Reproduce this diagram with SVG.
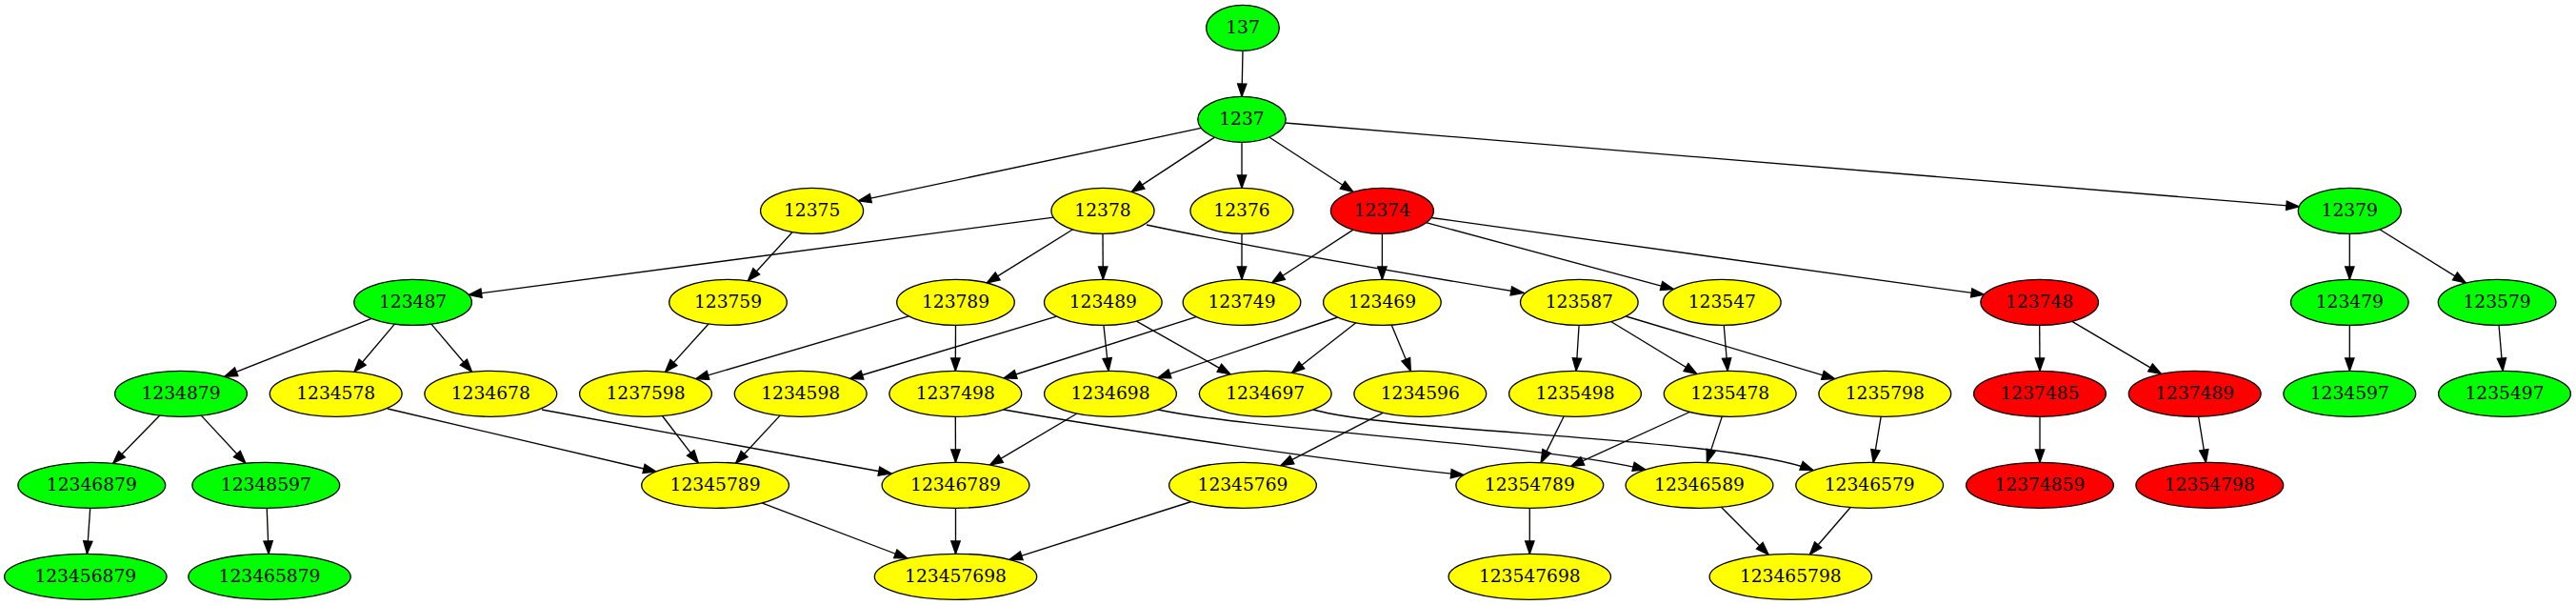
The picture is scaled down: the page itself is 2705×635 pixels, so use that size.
<svg xmlns="http://www.w3.org/2000/svg" width="2705" height="635" viewBox="0 0 2705 635">
<style>
ellipse{stroke:#000;stroke-width:1.33}
.g{fill:#00ff00}.y{fill:#ffff00}.r{fill:#ff0000}
text{font-family:"DejaVu Serif","Liberation Serif",serif;font-size:18.67px;text-anchor:middle;fill:#000}
#edges path{fill:none;stroke:#000;stroke-width:1.33;marker-end:url(#ah)}
</style>
<defs>
<marker id="ah" markerUnits="userSpaceOnUse" markerWidth="16" markerHeight="12" refX="13.33" refY="4.67" orient="auto" overflow="visible">
<path d="M0,0 L13.33,4.67 L0,9.33 Z" fill="#000" stroke="#000" stroke-width="1.33"/>
</marker>
</defs>
<rect width="2705" height="635" fill="#fff"/>
<g id="edges">
<path d="M1305,53.3 L1304,101.3"/>
<path d="M1261.4,134.4 L901.3,210.9"/>
<path d="M1275.4,144.1 L1188.2,201.4"/>
<path d="M1304,149.3 L1304,197.3"/>
<path d="M1332.8,144 L1421,201.5"/>
<path d="M1349.4,129 L2414.2,216.9"/>
<path d="M832.2,243.5 L785.3,294.7"/>
<path d="M1106.3,228.2 L492.3,309.5"/>
<path d="M1126.6,240.8 L1036.3,296.9"/>
<path d="M1158,245.3 L1158.3,293.3"/>
<path d="M1204,236 Q1340,265 1600,307.5"/>
<path d="M1304,245.3 L1304,293.3"/>
<path d="M1421,241.1 L1335.7,296.7"/>
<path d="M1451.4,245.3 L1451.4,293.3"/>
<path d="M1497.6,233.7 L1757.4,303.6"/>
<path d="M1503,228.5 L2083.4,309.2"/>
<path d="M2467.3,245.3 L2467.3,293.3"/>
<path d="M2498.8,240.8 L2589.3,296.9"/>
<path d="M390.2,334.4 L235.8,395.2"/>
<path d="M414.4,340.1 L372,390.3"/>
<path d="M452.9,340.1 L495.5,390.3"/>
<path d="M744,340 L698.5,390.4"/>
<path d="M954.2,331.8 L730.7,397.7"/>
<path d="M1003.5,341.3 L1003.3,389.3"/>
<path d="M1109.4,332.1 L892.7,397.5"/>
<path d="M1158.9,341.3 L1164.1,389.3"/>
<path d="M1193.4,337.1 L1292,392.8"/>
<path d="M1256.1,332.6 L1054,397"/>
<path d="M1404.6,333 L1215.8,396.6"/>
<path d="M1423.8,338.8 L1356.4,391.4"/>
<path d="M1461.2,341 L1481.4,389.6"/>
<path d="M1658.1,341.3 L1655.1,389.3"/>
<path d="M1691.6,337.5 L1781.8,392.4"/>
<path d="M1707.4,332 L1926.7,397.6"/>
<path d="M1810.2,341.3 L1814.2,389.3"/>
<path d="M2141.7,341.3 L2142,389.3"/>
<path d="M2175.8,337.4 L2269.5,392.6"/>
<path d="M2467.3,341.3 L2467.3,389.3"/>
<path d="M2624,341.3 L2628.1,389.3"/>
<path d="M167.8,436 L118.7,486.3"/>
<path d="M211.3,436.1 L257.9,486.2"/>
<path d="M407,429 L689,495"/>
<path d="M569,430 L936,497"/>
<path d="M695.5,436.5 L733.3,485.9"/>
<path d="M819.1,436.1 L772.5,486.2"/>
<path d="M1003.3,437.3 L1003.5,485.3"/>
<path d="M1054,430 C1180,452 1400,484 1537,498.6"/>
<path d="M1130.9,434 L1039.5,488.1"/>
<path d="M1216,430 C1320,452 1620,466 1728,493"/>
<path d="M1379,430 C1470,455 1810,458 1904,493.5"/>
<path d="M1452.6,433.2 L1344.9,488.7"/>
<path d="M1642.2,437 L1618.1,485.6"/>
<path d="M1774.2,432.5 L1649.7,489.4"/>
<path d="M1808.3,437.1 L1792.4,485.4"/>
<path d="M1975.2,437.1 L1967.2,485.4"/>
<path d="M2142,437.3 L2142,485.3"/>
<path d="M2308.6,437.1 L2316.4,485.4"/>
<path d="M94.7,533.3 L91.4,581.3"/>
<path d="M280.2,533.3 L282.1,581.3"/>
<path d="M800,527.9 L952.8,586"/>
<path d="M1003.5,533.3 L1003.5,581.3"/>
<path d="M1251,526.5 L1060,587.3"/>
<path d="M1606.3,533.3 L1606.3,581.3"/>
<path d="M1807.4,532.2 L1857.2,582.2"/>
<path d="M1943.2,532.5 L1900.4,582"/>
</g>
<g id="n137"><ellipse class="g" cx="1305" cy="29.3" rx="38.3" ry="24"/><text x="1305" y="34.9">137</text></g>
<g id="n1237"><ellipse class="g" cx="1304" cy="125.3" rx="46.2" ry="24"/><text x="1304" y="130.9">1237</text></g>
<g id="n12375"><ellipse class="y" cx="852.6" cy="221.3" rx="54" ry="24"/><text x="852.6" y="226.9">12375</text></g>
<g id="n12378"><ellipse class="y" cx="1158" cy="221.3" rx="54" ry="24"/><text x="1158" y="226.9">12378</text></g>
<g id="n12376"><ellipse class="y" cx="1304" cy="221.3" rx="54" ry="24"/><text x="1304" y="226.9">12376</text></g>
<g id="n12374"><ellipse class="r" cx="1451.4" cy="221.3" rx="54" ry="24"/><text x="1451.4" y="226.9">12374</text></g>
<g id="n12379"><ellipse class="g" cx="2467.3" cy="221.3" rx="54" ry="24"/><text x="2467.3" y="226.9">12379</text></g>
<g id="n123487"><ellipse class="g" cx="433.6" cy="317.3" rx="61.8" ry="24"/><text x="433.6" y="322.9">123487</text></g>
<g id="n123759"><ellipse class="y" cx="764.5" cy="317.3" rx="61.8" ry="24"/><text x="764.5" y="322.9">123759</text></g>
<g id="n123789"><ellipse class="y" cx="1003.5" cy="317.3" rx="61.8" ry="24"/><text x="1003.5" y="322.9">123789</text></g>
<g id="n123489"><ellipse class="y" cx="1158.3" cy="317.3" rx="61.8" ry="24"/><text x="1158.3" y="322.9">123489</text></g>
<g id="n123749"><ellipse class="y" cx="1304" cy="317.3" rx="61.8" ry="24"/><text x="1304" y="322.9">123749</text></g>
<g id="n123469"><ellipse class="y" cx="1451.4" cy="317.3" rx="61.8" ry="24"/><text x="1451.4" y="322.9">123469</text></g>
<g id="n123587"><ellipse class="y" cx="1658.3" cy="317.3" rx="61.8" ry="24"/><text x="1658.3" y="322.9">123587</text></g>
<g id="n123547"><ellipse class="y" cx="1808.3" cy="317.3" rx="61.8" ry="24"/><text x="1808.3" y="322.9">123547</text></g>
<g id="n123748"><ellipse class="r" cx="2141.7" cy="317.3" rx="61.8" ry="24"/><text x="2141.7" y="322.9">123748</text></g>
<g id="n123479"><ellipse class="g" cx="2467.3" cy="317.3" rx="61.8" ry="24"/><text x="2467.3" y="322.9">123479</text></g>
<g id="n123579"><ellipse class="g" cx="2622.1" cy="317.3" rx="61.8" ry="24"/><text x="2622.1" y="322.9">123579</text></g>
<g id="n1234879"><ellipse class="g" cx="190" cy="413.3" rx="69.4" ry="24"/><text x="190" y="418.9">1234879</text></g>
<g id="n1234578"><ellipse class="y" cx="352.7" cy="413.3" rx="69.4" ry="24"/><text x="352.7" y="418.9">1234578</text></g>
<g id="n1234678"><ellipse class="y" cx="515.3" cy="413.3" rx="69.4" ry="24"/><text x="515.3" y="418.9">1234678</text></g>
<g id="n1237598"><ellipse class="y" cx="678" cy="413.3" rx="69.4" ry="24"/><text x="678" y="418.9">1237598</text></g>
<g id="n1234598"><ellipse class="y" cx="840.7" cy="413.3" rx="69.4" ry="24"/><text x="840.7" y="418.9">1234598</text></g>
<g id="n1237498"><ellipse class="y" cx="1003.3" cy="413.3" rx="69.4" ry="24"/><text x="1003.3" y="418.9">1237498</text></g>
<g id="n1234698"><ellipse class="y" cx="1166" cy="413.3" rx="69.4" ry="24"/><text x="1166" y="418.9">1234698</text></g>
<g id="n1234697"><ellipse class="y" cx="1328.7" cy="413.3" rx="69.4" ry="24"/><text x="1328.7" y="418.9">1234697</text></g>
<g id="n1234596"><ellipse class="y" cx="1491.3" cy="413.3" rx="69.4" ry="24"/><text x="1491.3" y="418.9">1234596</text></g>
<g id="n1235498"><ellipse class="y" cx="1654" cy="413.3" rx="69.4" ry="24"/><text x="1654" y="418.9">1235498</text></g>
<g id="n1235478"><ellipse class="y" cx="1816.7" cy="413.3" rx="69.4" ry="24"/><text x="1816.7" y="418.9">1235478</text></g>
<g id="n1235798"><ellipse class="y" cx="1979.3" cy="413.3" rx="69.4" ry="24"/><text x="1979.3" y="418.9">1235798</text></g>
<g id="n1237485"><ellipse class="r" cx="2142" cy="413.3" rx="69.4" ry="24"/><text x="2142" y="418.9">1237485</text></g>
<g id="n1237489"><ellipse class="r" cx="2304.7" cy="413.3" rx="69.4" ry="24"/><text x="2304.7" y="418.9">1237489</text></g>
<g id="n1234597"><ellipse class="g" cx="2467.3" cy="413.3" rx="69.4" ry="24"/><text x="2467.3" y="418.9">1234597</text></g>
<g id="n1235497"><ellipse class="g" cx="2630" cy="413.3" rx="69.4" ry="24"/><text x="2630" y="418.9">1235497</text></g>
<g id="n12346879"><ellipse class="g" cx="96.3" cy="509.3" rx="77.4" ry="24"/><text x="96.3" y="514.9">12346879</text></g>
<g id="n12348597"><ellipse class="g" cx="279.3" cy="509.3" rx="77.4" ry="24"/><text x="279.3" y="514.9">12348597</text></g>
<g id="n12345789"><ellipse class="y" cx="751.1" cy="509.3" rx="77.4" ry="24"/><text x="751.1" y="514.9">12345789</text></g>
<g id="n12346789"><ellipse class="y" cx="1003.5" cy="509.3" rx="77.4" ry="24"/><text x="1003.5" y="514.9">12346789</text></g>
<g id="n12345769"><ellipse class="y" cx="1305" cy="509.3" rx="77.4" ry="24"/><text x="1305" y="514.9">12345769</text></g>
<g id="n12354789"><ellipse class="y" cx="1606.3" cy="509.3" rx="77.4" ry="24"/><text x="1606.3" y="514.9">12354789</text></g>
<g id="n12346589"><ellipse class="y" cx="1784.5" cy="509.3" rx="77.4" ry="24"/><text x="1784.5" y="514.9">12346589</text></g>
<g id="n12346579"><ellipse class="y" cx="1963.2" cy="509.3" rx="77.4" ry="24"/><text x="1963.2" y="514.9">12346579</text></g>
<g id="n12374859"><ellipse class="r" cx="2142" cy="509.3" rx="77.4" ry="24"/><text x="2142" y="514.9">12374859</text></g>
<g id="n12354798"><ellipse class="r" cx="2320.3" cy="509.3" rx="77.4" ry="24"/><text x="2320.3" y="514.9">12354798</text></g>
<g id="n123456879"><ellipse class="g" cx="89.8" cy="605.3" rx="85.2" ry="24"/><text x="89.8" y="610.9">123456879</text></g>
<g id="n123465879"><ellipse class="g" cx="283" cy="605.3" rx="85.2" ry="24"/><text x="283" y="610.9">123465879</text></g>
<g id="n123457698"><ellipse class="y" cx="1003.5" cy="605.3" rx="85.2" ry="24"/><text x="1003.5" y="610.9">123457698</text></g>
<g id="n123547698"><ellipse class="y" cx="1606.3" cy="605.3" rx="85.2" ry="24"/><text x="1606.3" y="610.9">123547698</text></g>
<g id="n123465798"><ellipse class="y" cx="1880.3" cy="605.3" rx="85.2" ry="24"/><text x="1880.3" y="610.9">123465798</text></g>
</svg>
